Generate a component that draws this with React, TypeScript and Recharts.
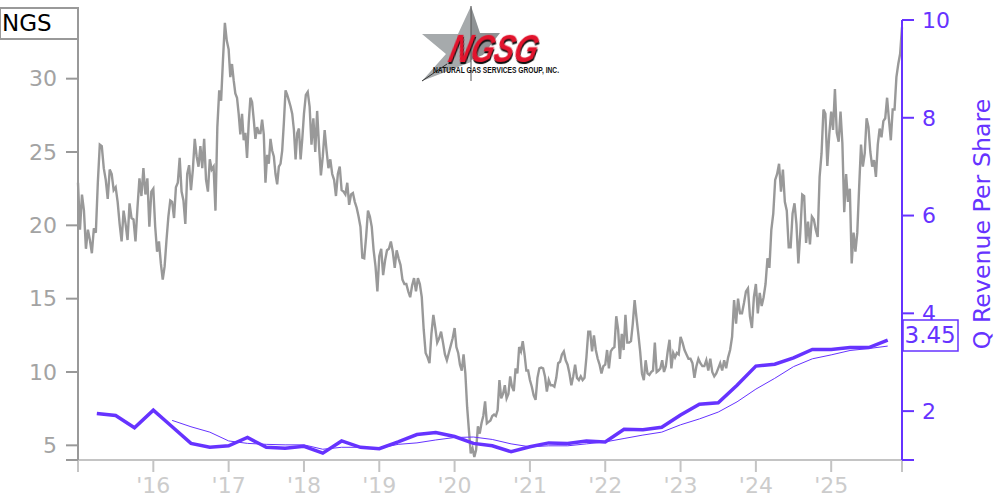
import { Line, LineChart, XAxis, YAxis } from 'recharts'

const FONT = '"DejaVu Sans", sans-serif'
const GRAY = '#999999'
const PURPLE = '#6633ff'

// daily close, thinned out, one list per calendar year
const price2015 = [22.9, 19.7, 22.1, 21.0, 18.4, 19.7, 19.0, 18.1, 19.8, 19.5, 22.9, 25.5, 25.4, 23.9, 23.1, 21.8, 23.8, 23.5, 22.4, 22.6, 21.6, 20.1, 18.9, 21.0, 20.1, 19.0, 21.5, 20.5, 20.4, 18.9, 21.2, 23.2, 22.0, 23.9, 22.1, 23.2, 19.9, 22.3]
const price2016 = [22.5, 19.9, 18.2, 18.9, 17.4, 16.3, 17.2, 19.0, 20.6, 21.7, 21.6, 20.5, 22.6, 22.9, 24.6, 22.3, 21.7, 20.1, 23.5, 24.1, 22.4, 23.8, 25.9, 24.7, 24.0, 25.4, 23.9, 25.9, 23.1, 22.3, 24.5, 23.8, 24.0, 21.0, 26.7, 29.2, 28.5, 31.3, 33.8, 32.6]
const price2017 = [32.0, 30.1, 31.0, 29.9, 29.0, 28.7, 27.6, 26.2, 27.6, 25.8, 26.3, 24.6, 27.0, 28.7, 28.4, 27.2, 25.9, 26.7, 26.3, 26.3, 27.2, 26.2, 22.9, 24.8, 24.2, 25.9, 25.1, 24.7, 23.5, 22.8, 24.0, 24.2, 25.1, 27.0, 29.2, 28.9, 28.5, 28.1, 27.6, 26.5, 24.5, 26.3, 26.6, 24.5, 25.9]
const price2018 = [27.6, 28.9, 29.1, 28.1, 25.5, 27.3, 25.0, 27.8, 25.4, 23.4, 24.7, 26.5, 25.1, 23.9, 24.5, 23.5, 23.1, 22.0, 23.5, 24.0, 22.4, 22.3, 22.1, 22.9, 21.4, 22.1, 22.2, 21.6, 21.2, 20.6, 19.9, 17.8, 17.75, 19.2, 21.0, 20.6, 19.9, 18.3, 17.2, 15.5]
const price2019 = [17.9, 18.4, 16.6, 17.6, 18.3, 18.4, 18.9, 18.2, 17.1, 18.3, 17.75, 17.3, 16.3, 16.0, 16.0, 15.5, 15.1, 15.9, 16.4, 15.5, 16.4, 16.0, 15.1, 12.9, 11.3, 11.0, 10.6, 12.6, 13.9, 13.0, 12.0, 12.3, 12.75, 12.0, 11.2, 10.8, 11.3, 11.8, 12.3]
const price2020 = [13.0, 11.7, 11.3, 10.5, 10.1, 11.2, 9.9, 7.6, 6.0, 4.45, 4.8, 4.2, 4.7, 6.3, 5.8, 6.5, 7.0, 8.0, 6.5, 6.6, 6.7, 7.0, 7.1, 7.0, 7.4, 9.45, 8.2, 8.5, 9.1, 8.2, 8.5, 9.7, 9.0, 8.7, 10.25, 9.9, 11.7, 11.4, 12.1, 11.2, 10.1, 10.1]
const price2021 = [9.45, 9.0, 8.4, 8.1, 9.6, 10.25, 10.3, 10.25, 9.7, 8.66, 9.45, 9.1, 9.1, 9.0, 9.6, 10.6, 10.7, 11.2, 11.4, 10.8, 10.5, 9.9, 9.1, 9.7, 10.5, 9.6, 9.45, 9.7, 9.45, 9.6, 11.0, 12.75, 12.75, 11.4, 12.5, 11.5, 10.9, 10.5, 9.9, 10.4]
const price2022 = [10.5, 11.5, 10.25, 11.4, 11.6, 11.7, 13.8, 12.9, 10.9, 12.6, 11.5, 13.9, 12.0, 12.0, 12.1, 13.3, 14.9, 13.7, 12.6, 11.4, 9.9, 9.45, 10.8, 9.9, 9.8, 10.0, 10.1, 12.0, 10.0, 10.1, 10.25, 10.8, 10.0, 10.4, 11.4, 12.2, 10.25, 11.3, 11.0, 11.3, 11.2]
const price2023 = [12.4, 12.0, 11.5, 11.2, 10.9, 10.9, 10.6, 9.6, 10.4, 10.9, 10.6, 10.4, 10.4, 10.8, 10.1, 10.9, 10.0, 9.7, 9.9, 10.25, 10.6, 10.1, 10.8, 10.25, 11.0, 11.5, 12.4, 14.9, 13.3, 15.0, 14.0, 14.0, 14.7, 15.5, 15.7, 13.8, 13.0, 15.1]
const price2024 = [16.0, 14.0, 15.4, 14.5, 15.1, 16.0, 17.75, 17.1, 19.7, 20.8, 23.1, 23.5, 24.2, 22.3, 23.8, 21.6, 21.0, 18.5, 18.5, 20.8, 21.5, 20.1, 17.4, 19.5, 22.1, 22.0, 18.8, 20.25, 18.7, 20.6, 20.4, 19.7, 19.2, 23.3, 24.9, 27.9, 27.6, 24.05, 26.2]
const price2025 = [27.75, 26.5, 29.3, 26.3, 25.7, 27.75, 25.6, 20.9, 23.5, 21.6, 22.5, 17.4, 19.5, 18.2, 19.5, 22.6, 25.5, 24.0, 24.9, 27.3, 26.7, 25.0, 24.0, 24.45, 23.3, 25.5, 26.6, 26.0, 27.1, 27.3, 28.7, 27.2, 25.8, 27.9, 27.9, 30.1, 31.0, 31.7, 33.5]

const priceYears = [2015, 2016, 2017, 2018, 2019, 2020, 2021, 2022, 2023, 2024, 2025]
const priceLists = [price2015, price2016, price2017, price2018, price2019, price2020, price2021, price2022, price2023, price2024, price2025]

const revenueQuarters = [2015.25, 2015.5, 2015.75, 2016, 2016.25, 2016.5, 2016.75, 2017, 2017.25, 2017.5, 2017.75, 2018, 2018.25, 2018.5, 2018.75, 2019, 2019.25, 2019.5, 2019.75, 2020, 2020.25, 2020.5, 2020.75, 2021, 2021.25, 2021.5, 2021.75, 2022, 2022.25, 2022.5, 2022.75, 2023, 2023.25, 2023.5, 2023.75, 2024, 2024.25, 2024.5, 2024.75, 2025, 2025.25, 2025.5, 2025.75]
const revenue = [1.95, 1.91, 1.66, 2.02, 1.68, 1.34, 1.26, 1.29, 1.46, 1.26, 1.24, 1.28, 1.14, 1.39, 1.26, 1.23, 1.37, 1.52, 1.56, 1.48, 1.34, 1.29, 1.17, 1.27, 1.35, 1.34, 1.39, 1.37, 1.63, 1.62, 1.67, 1.92, 2.14, 2.17, 2.53, 2.92, 2.96, 3.09, 3.26, 3.26, 3.3, 3.3, 3.45]
// trailing average, starts a year later than the quarterly line
const revenueAvg = [1.81, 1.68, 1.57, 1.39, 1.34, 1.32, 1.31, 1.31, 1.22, 1.26, 1.26, 1.24, 1.32, 1.35, 1.41, 1.46, 1.47, 1.42, 1.33, 1.27, 1.29, 1.29, 1.33, 1.37, 1.44, 1.51, 1.57, 1.72, 1.84, 1.98, 2.19, 2.45, 2.67, 2.91, 3.07, 3.15, 3.24, 3.28, 3.33]

const xEnd = 2025.94
const xTicks = [2015, 2016, 2017, 2018, 2019, 2020, 2021, 2022, 2023, 2024, 2025, xEnd]
const priceTicks = [4, 5, 10, 15, 20, 25, 30]
const revenueTicks = [1, 2, 4, 6, 8, 10]
const latestRevenue = '3.45'

const priceData = priceLists.flatMap((list, y) =>
  list.map((v, i) => {
    const year = priceYears[y]
    const t = year === 2025 ? year + ((xEnd - year) * i) / (list.length - 1) : year + i / list.length
    return { t, v }
  }),
)
const revenueData = revenueQuarters.map((t, i) => ({ t, v: revenue[i] }))
const avgData = revenueAvg.map((v, i) => ({ t: revenueQuarters[i + 4], v }))

const Logo = () => (
  <g>
    <polygon points="471,6 458,34 422,34 446,54 422,81 471,62 471,81 471,6" fill="#a6aaac" />
    <polygon points="471,6 480,33 500,33 483,55 471,60" fill="#8f9395" />
    <line x1="471" y1="6" x2="471" y2="81" stroke="#555" strokeWidth={1} />
    <line x1="422" y1="81" x2="447" y2="64" stroke="#333" strokeWidth={1} />
    <text
      transform="translate(447 62) skewX(-14)"
      fontFamily="Liberation Sans"
      fontWeight="bold"
      fontStyle="italic"
      fontSize={40}
      textLength={88}
      lengthAdjust="spacingAndGlyphs"
      fill="#e2142d"
      style={{ filter: 'drop-shadow(1.5px 2px 0 #111)' }}
    >
      NGSG
    </text>
    <text x={433} y={73} fontFamily="Liberation Sans" fontWeight="bold" fontSize={8.5} textLength={126} lengthAdjust="spacingAndGlyphs" fill="#111">NATURAL GAS SERVICES GROUP, INC.</text>
  </g>
)

const App = () => (
  <div style={{ position: 'absolute', left: 0, top: 0, width: 1000, height: 500, background: '#fff' }}>
    <LineChart width={1000} height={500} margin={{ top: 20, right: 0, bottom: 0, left: 0 }}>
      <XAxis
        xAxisId="x"
        dataKey="t"
        type="number"
        domain={[2015, xEnd]}
        ticks={xTicks}
        interval={0}
        height={40}
        tickSize={12}
        tickMargin={5}
        axisLine={{ stroke: '#c4c4c4', strokeWidth: 2 }}
        tickLine={{ stroke: '#c4c4c4', strokeWidth: 2 }}
        tick={{ fontSize: 22, fontFamily: FONT, fill: '#cccccc' }}
        tickFormatter={(t: number) => (t === 2015 || t === xEnd ? '' : `'${String(t).slice(2)}`)}
      />
      <YAxis
        yAxisId="price"
        orientation="left"
        domain={[4, 34]}
        ticks={priceTicks}
        interval={0}
        width={78}
        tickSize={12}
        tickMargin={9}
        axisLine={{ stroke: GRAY, strokeWidth: 2 }}
        tickLine={{ stroke: GRAY, strokeWidth: 2 }}
        tick={{ fontSize: 22, fontFamily: FONT, fill: '#a3a3a3' }}
        tickFormatter={(v: number) => (v === 4 ? '' : String(v))}
      />
      <YAxis
        yAxisId="rev"
        orientation="right"
        domain={[1, 10]}
        ticks={revenueTicks}
        interval={0}
        width={98}
        tickSize={12}
        tickMargin={8}
        axisLine={{ stroke: PURPLE, strokeWidth: 2 }}
        tickLine={{ stroke: PURPLE, strokeWidth: 2 }}
        tick={{ fontSize: 22, fontFamily: FONT, fill: PURPLE }}
        tickFormatter={(v: number) => (v === 1 ? '' : String(v))}
      />
      <Line xAxisId="x" yAxisId="price" data={priceData} dataKey="v" type="linear" stroke={GRAY} strokeWidth={2.4} dot={false} isAnimationActive={false} />
      <Line xAxisId="x" yAxisId="rev" data={avgData} dataKey="v" type="linear" stroke={PURPLE} strokeWidth={1} dot={false} isAnimationActive={false} />
      <Line xAxisId="x" yAxisId="rev" data={revenueData} dataKey="v" type="linear" stroke={PURPLE} strokeWidth={3.5} dot={false} isAnimationActive={false} />
    </LineChart>
    <svg width={1000} height={500} style={{ position: 'absolute', left: 0, top: 0, pointerEvents: 'none' }}>
      <rect x={0} y={8} width={78} height={31} fill="#fff" stroke={GRAY} strokeWidth={2} />
      <text x={2} y={31} fontFamily={FONT} fontSize={23} fill="#000">NGS</text>
      <Logo />
      <rect x={903} y={320} width={55} height={31} fill="#fff" stroke={PURPLE} strokeWidth={1.5} />
      <text x={904.5} y={343} fontFamily={FONT} fontSize={23} fill={PURPLE}>{latestRevenue}</text>
      <text transform="rotate(-90 990 224)" x={990} y={224} textAnchor="middle" fontFamily={FONT} fontSize={23.7} fill={PURPLE}>Q Revenue Per Share</text>
    </svg>
  </div>
)

export default App
